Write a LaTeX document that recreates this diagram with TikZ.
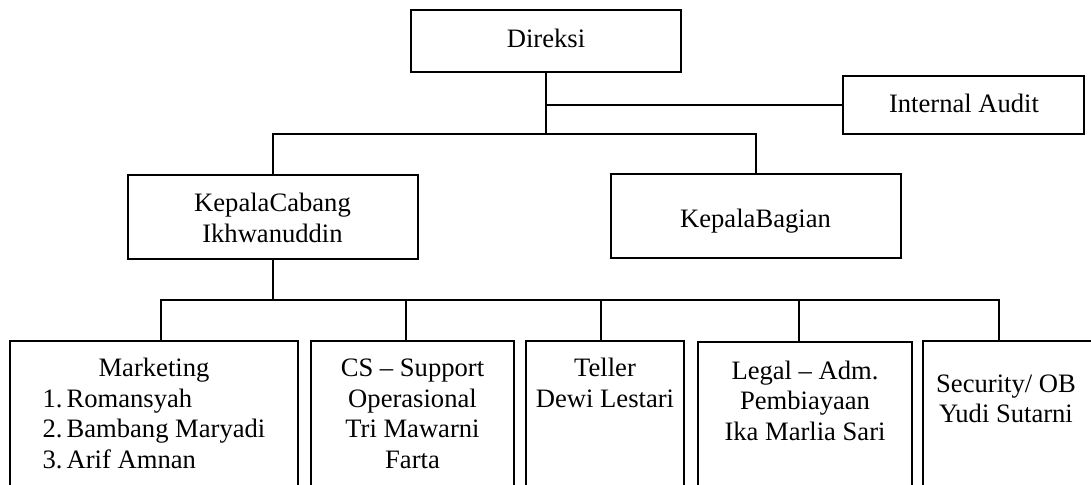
\documentclass[tikz,border=0pt]{standalone}
\usepackage{fontspec}
\setmainfont{Liberation Serif}
\begin{document}
\begin{tikzpicture}[x=1pt,y=-1pt,
  box/.style={draw, line width=2pt, inner sep=0pt, outer sep=0pt},
  txt/.style={font=\fontsize{26.6}{30.6}\selectfont, align=center, inner sep=0pt, anchor=north},
  lst/.style={font=\fontsize{26.6}{30.6}\selectfont, align=left, inner sep=0pt, anchor=north},
  conn/.style={line width=2pt, line join=miter}]
\useasboundingbox (0,0) rectangle (1091,484);
\clip (0,0) rectangle (1091,484);
% boxes
\node[box, minimum width=270, minimum height=62] (dir) at (546,41) {};
\node[box, minimum width=241, minimum height=58] (ia) at (963.5,105) {};
\node[box, minimum width=290, minimum height=84] (kc) at (273,217) {};
\node[box, minimum width=290, minimum height=84] (kb) at (756,216) {};
\node[box, minimum width=288, minimum height=180] (mkt) at (154,431) {};
\node[box, minimum width=203, minimum height=180] (cs) at (412.5,431) {};
\node[box, minimum width=158, minimum height=180] (tel) at (605,431) {};
\node[box, minimum width=214, minimum height=178] (leg) at (805,431) {};
\node[box, minimum width=172, minimum height=180] (sec) at (1009,431) {};
% texts
\node[txt] (dirT) at (546,25.6) {\strut Direksi};
\node[txt] (iaT) at (964,90.9) {\strut Internal Audit};
\node[txt] (kcT) at (272.5,190.3) {\strut KepalaCabang\\Ikhwanuddin};
\node[txt] (kbT) at (755.5,206.3) {\strut KepalaBagian};
\node[txt] (mktT) at (154,355.1) {\strut Marketing};
\node[lst] (mktL) at (154,385.6) {\strut\makebox[24pt][l]{1.}Romansyah\\\makebox[24pt][l]{2.}Bambang Maryadi\\\makebox[24pt][l]{3.}Arif Amnan};
\node[txt] (csT) at (412.5,355.1) {\strut CS -- Support\\Operasional\\Tri Mawarni\\Farta};
\node[txt] (telT) at (605,355.1) {\strut Teller\\Dewi Lestari};
\node[txt] (legT) at (805,357.6) {\strut Legal -- Adm.\\Pembiayaan\\Ika Marlia Sari};
\node[txt] (secT) at (1006,370.6) {\strut Security/ OB\\Yudi Sutarni};
% junctions
\coordinate (j1) at (546,134);
\coordinate (j2) at (273,300);
\coordinate (s1) at (161,300);
\coordinate (s2) at (406,300);
\coordinate (s3) at (601,300);
\coordinate (s4) at (799,300);
\coordinate (s5) at (999,300);
% connectors
\draw[conn] (dir.south) -- (j1);
\draw[conn] (dir.south |- ia.west) -- (ia.west);
\draw[conn] (kc.north) -- (kc.north |- j1) -- (kb.north |- j1) -- (kb.north);
\draw[conn] (kc.south) -- (j2);
\draw[conn] (s1 |- mkt.north) -- (s1) -- (s5) -- (s5 |- sec.north);
\draw[conn] (s2) -- (s2 |- cs.north);
\draw[conn] (s3) -- (s3 |- tel.north);
\draw[conn] (s4) -- (s4 |- leg.north);
\end{tikzpicture}
\end{document}
